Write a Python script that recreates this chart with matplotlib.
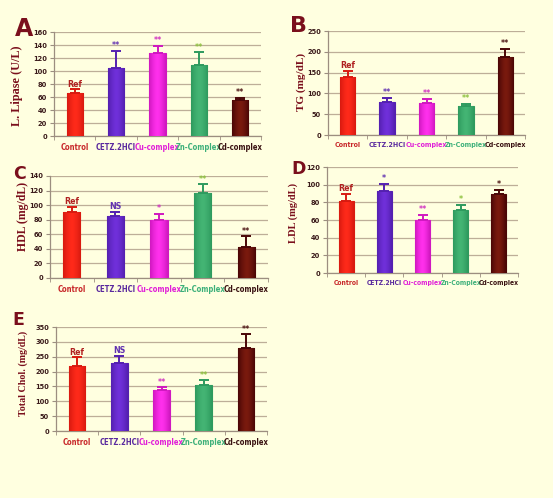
import matplotlib
matplotlib.use("Agg")
import matplotlib.pyplot as plt
import numpy as np
from matplotlib.colors import to_rgb

categories = ["Control", "CETZ.2HCl", "Cu-complex", "Zn-Complex", "Cd-complex"]

lipase = [66, 104, 127, 109, 55]
lipase_err = [6, 27, 12, 20, 4]
lipase_sig = ["Ref", "**", "**", "**", "**"]

tg = [140, 80, 77, 70, 188]
tg_err = [15, 10, 10, 5, 19]
tg_sig = ["Ref", "**", "**", "**", "**"]

hdl = [90, 85, 80, 116, 43]
hdl_err = [8, 6, 8, 13, 14]
hdl_sig = ["Ref", "NS", "*", "**", "**"]

ldl = [81, 93, 60, 71, 89]
ldl_err = [9, 8, 6, 6, 5]
ldl_sig = ["Ref", "*", "**", "*", "*"]

tchol = [220, 228, 138, 155, 280]
tchol_err = [28, 25, 10, 15, 45]
tchol_sig = ["Ref", "NS", "**", "**", "**"]

bar_colors = ["#FF2A1A", "#7030DA", "#FF30EC", "#44B574", "#7A1A0E"]
edge_colors = ["#D81A10", "#5420B0", "#D018C0", "#2E9A5E", "#4A0606"]
label_colors = ["#C8282A", "#5A2A9E", "#E020D8", "#3DB07A", "#3A1212"]
sig_colors = ["#B02020", "#6030B0", "#D030C0", "#8CC03C", "#4A1010"]

BG = "#FFFFE0"
DARK = "#7A0F1C"
W, H = 553, 498

fig = plt.figure(figsize=(W / 100, H / 100), dpi=100, facecolor=BG)


def shade(c_center, c_edge, n=32):
    t = np.linspace(-1, 1, n)
    w = np.abs(t) ** 1.5
    a = np.array(to_rgb(c_center))
    b = np.array(to_rgb(c_edge))
    row = (1 - w)[:, None] * a + w[:, None] * b
    return row[None, :, :]


def make_panel(box, values, errs, sigs, ylabel, ymax, ystep, letter, letter_xy,
               letter_size, ylabel_xy, ylabel_size, cat_size, bar_w=0.39):
    l, r, t, b = box
    ax = fig.add_axes([l / W, 1 - b / H, (r - l) / W, (b - t) / H])
    ax.set_facecolor(BG)
    x = np.arange(len(values))
    bars = ax.bar(x, values, width=bar_w, color=bar_colors,
                  edgecolor=edge_colors, linewidth=0.8, zorder=3)
    for i, p in enumerate(bars):
        im = ax.imshow(shade(bar_colors[i], edge_colors[i]), aspect="auto",
                       extent=[x[i] - bar_w / 2, x[i] + bar_w / 2, 0, values[i]],
                       zorder=3.1, interpolation="bilinear")
        im.set_clip_path(p)
    for i in range(len(values)):
        ax.errorbar(x[i], values[i], yerr=[[0], [errs[i]]], fmt="none",
                    ecolor=edge_colors[i], elinewidth=1.4, capsize=3.5,
                    capthick=1.4, zorder=4)
        ax.text(x[i], values[i] + errs[i] + ymax * 0.005, sigs[i],
                ha="center", va="bottom", fontsize=6.3, fontweight="bold",
                color=sig_colors[i], family="DejaVu Sans",
                fontstretch="condensed", zorder=5)
    ax.set_xlim(-0.5, len(values) - 0.5)
    ax.set_ylim(0, ymax)
    ax.set_yticks(np.arange(0, ymax + 1, ystep))
    ax.yaxis.grid(True, color="#BDAE98", linewidth=0.9, zorder=0)
    ax.set_axisbelow(True)
    for s in ["top", "right"]:
        ax.spines[s].set_visible(False)
    for s in ["left", "bottom"]:
        ax.spines[s].set_color("#9C8E80")
        ax.spines[s].set_linewidth(0.9)
    ax.set_xticks(x)
    ax.set_xticklabels([])
    ax.tick_params(axis="x", which="major", length=0)
    ax.set_xticks(np.arange(-0.5, len(values), 1.0), minor=True)
    ax.tick_params(axis="x", which="minor", length=3, color="#9C8E80")
    ax.tick_params(axis="y", length=3, color="#9C8E80", labelsize=5.3,
                   labelcolor="#3A1A1A", pad=2)
    for lab in ax.get_yticklabels():
        lab.set_fontweight("bold")
        lab.set_fontstretch("condensed")
    for i, c in enumerate(categories):
        ax.text(x[i], -ymax * 0.065, c, ha="center", va="top",
                fontsize=cat_size, fontweight="bold", color=label_colors[i],
                family="DejaVu Sans", fontstretch="condensed",
                transform=ax.transData, clip_on=False)
    fig.text(ylabel_xy[0] / W, 1 - ylabel_xy[1] / H, ylabel, rotation=90,
             ha="center", va="center", fontsize=ylabel_size, fontweight="bold",
             family="Liberation Serif", color=DARK)
    fig.text(letter_xy[0] / W, 1 - letter_xy[1] / H, letter, ha="center",
             va="center", fontsize=letter_size, fontweight="bold",
             family="DejaVu Sans", color=DARK)
    return ax


make_panel((54, 261, 32, 136), lipase, lipase_err, lipase_sig,
           "L. Lipase (U/L)", 160, 20, "A", (24, 29), 17, (17, 86), 8.8, 5.5)
make_panel((328, 525, 31, 135), tg, tg_err, tg_sig,
           "TG (mg/dL)", 250, 50, "B", (299, 26.5), 16, (301, 82), 8.0, 5.0)
make_panel((50, 268, 176, 278), hdl, hdl_err, hdl_sig,
           "HDL (mg/dL)", 140, 20, "C", (19, 174), 12.5, (23, 216), 8.5, 5.5)
make_panel((327, 518, 167, 273), ldl, ldl_err, ldl_sig,
           "LDL (mg/dL)", 120, 20, "D", (299, 169), 12.5, (293, 213), 7.6,
           4.9)
make_panel((56, 267, 327, 431), tchol, tchol_err, tchol_sig,
           "Total Chol. (mg/dL)", 350, 50, "E", (18, 320), 12.5, (23, 373),
           7.2, 5.5)

fig.savefig("out.png", dpi=100, facecolor=BG)
